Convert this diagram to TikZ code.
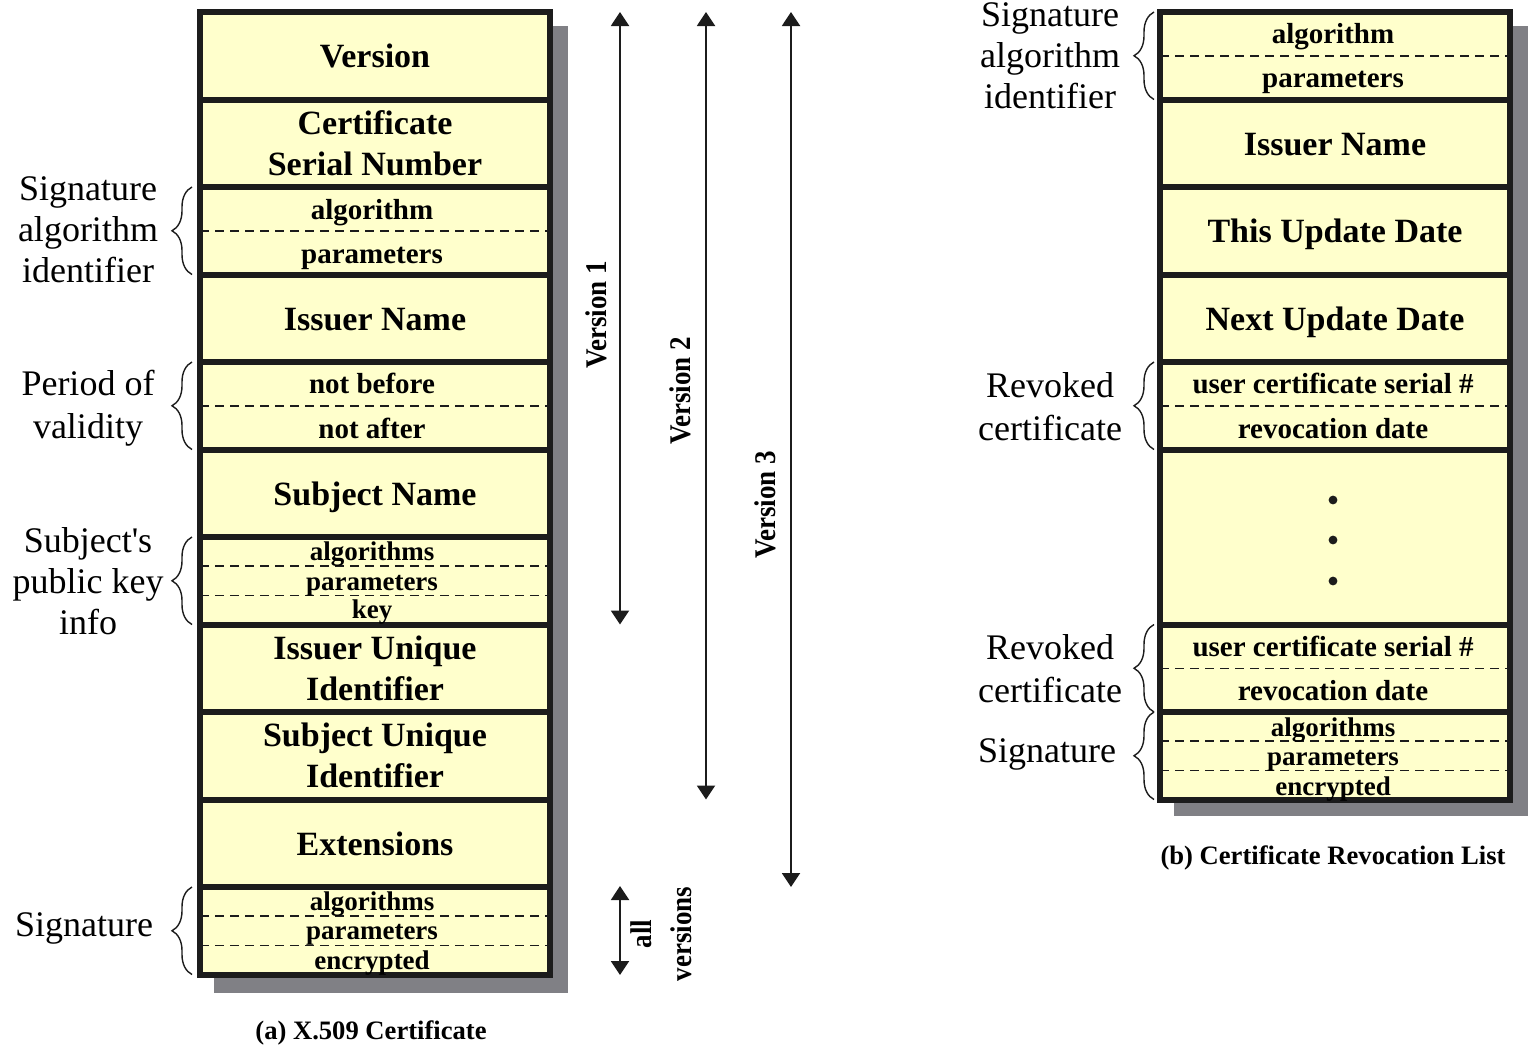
\documentclass[tikz,border=0pt]{standalone}
\usepackage{fontspec}
\setmainfont{Liberation Serif}
\newfontfamily\vfont[FakeStretch=0.9]{Liberation Serif}
\usetikzlibrary{arrows.meta,decorations.pathreplacing,calc}
\definecolor{cellyellow}{RGB}{255,255,204}
\definecolor{shadowgray}{RGB}{128,128,133}
\definecolor{ink}{RGB}{28,28,28}
\begin{document}
\begin{tikzpicture}[x=0.5pt,y=-0.5pt,
  field/.style={draw=ink, fill=cellyellow, line width=3pt, minimum width=175pt,
    minimum height=43.75pt, inner sep=0pt, outer sep=0pt, align=center,
    font=\fontsize{17}{20.5}\selectfont\bfseries},
  fixbig/.style={text height=12pt, text depth=0pt},
  tallfield/.style={field, minimum height=87.5pt},
  sub/.style={inner sep=0pt, font=\fontsize{14.5}{17}\selectfont\bfseries, text height=10pt, text depth=0pt},
  subsm/.style={inner sep=0pt, font=\fontsize{13.5}{16}\selectfont\bfseries, text height=9.5pt, text depth=0pt},
  lbl/.style={inner sep=0pt, align=center, font=\fontsize{18}{20.5}\selectfont},
  fixlbl/.style={text height=12.6pt, text depth=0pt},
  vlbl/.style={inner sep=0pt, align=center, rotate=90, font={\vfont\bfseries\fontsize{15}{19}\selectfont}},
  captext/.style={inner sep=0pt, font=\fontsize{13.3}{16}\selectfont\bfseries, text height=9.3pt, text depth=0pt},
  dashline/.style={draw=ink, line width=0.75pt, dash pattern=on 4.5pt off 3pt},
  brace/.style={draw=ink, line width=0.7pt, decorate, decoration={brace, amplitude=10pt}},
  varrow/.style={draw=ink, line width=1pt, {Triangle[width=9pt,length=7pt]}-{Triangle[width=9pt,length=7pt]}}
]
\useasboundingbox (0,0) rectangle (1529,1049);

% shadows
\fill[shadowgray] (214,26) rectangle (568,992.5);
\fill[shadowgray] (1174,26) rectangle (1528,815.5);

% ---------------- (a) X.509 certificate ----------------
\node[field,fixbig] (version) at (375,55.75) {Version};
\node[field] (serial) at (375,143.25) {Certificate\\Serial Number};
\node[field] (sigalg) at (375,230.75) {};
\node[field,fixbig] (issuer) at (375,318.25) {Issuer Name};
\node[field] (validity) at (375,405.75) {};
\node[field,fixbig] (subject) at (375,493.25) {Subject Name};
\node[field] (pubkey) at (375,580.75) {};
\node[field] (issuerid) at (375,668.25) {Issuer Unique\\Identifier};
\node[field] (subjectid) at (375,755.75) {Subject Unique\\Identifier};
\node[field,fixbig] (ext) at (375,843.25) {Extensions};
\node[field] (sig) at (375,930.75) {};

\draw[dashline] (sigalg.west) -- (sigalg.east);
\draw[dashline] (validity.west) -- (validity.east);
\draw[dashline] ($(pubkey.north west)!1/3!(pubkey.south west)$) -- ($(pubkey.north east)!1/3!(pubkey.south east)$);
\draw[dashline] ($(pubkey.north west)!2/3!(pubkey.south west)$) -- ($(pubkey.north east)!2/3!(pubkey.south east)$);
\draw[dashline] ($(sig.north west)!1/3!(sig.south west)$) -- ($(sig.north east)!1/3!(sig.south east)$);
\draw[dashline] ($(sig.north west)!2/3!(sig.south west)$) -- ($(sig.north east)!2/3!(sig.south east)$);

\node[sub] (sigalg-a) at (372,209) {algorithm};
\node[sub] (sigalg-p) at (372,253) {parameters};
\node[sub] (valid-b) at (372,383) {not before};
\node[sub] (valid-a) at (372,428) {not after};
\node[subsm] (pubkey-a) at (372,551) {algorithms};
\node[subsm] (pubkey-p) at (372,581) {parameters};
\node[subsm] (pubkey-k) at (372,609) {key};
\node[subsm] (sig-a) at (372,901) {algorithms};
\node[subsm] (sig-p) at (372,930) {parameters};
\node[subsm] (sig-e) at (372,960) {encrypted};

% labels left
\node[lbl] (l-sigalg) at (88,230) {Signature\\algorithm\\identifier};
\node[lbl, font=\fontsize{18}{21.5}\selectfont] (l-valid) at (88,408) {Period of\\validity};
\node[lbl] (l-pubkey) at (88,581) {Subject\textquotesingle s\\public key\\info};
\node[lbl,fixlbl] (l-sig) at (84,924) {Signature};

\draw[brace] ([xshift=-4pt]sigalg.south west) -- ([xshift=-4pt]sigalg.north west);
\draw[brace] ([xshift=-4pt]validity.south west) -- ([xshift=-4pt]validity.north west);
\draw[brace] ([xshift=-4pt]pubkey.south west) -- ([xshift=-4pt]pubkey.north west);
\draw[brace] ([xshift=-4pt]sig.south west) -- ([xshift=-4pt]sig.north west);

% version arrows
\coordinate (v1t) at (620,12);
\coordinate (v1b) at (620,624.5);
\coordinate (v2t) at (706,12);
\coordinate (v2b) at (706,799.5);
\coordinate (v3t) at (791,12);
\coordinate (v3b) at (791,887);
\coordinate (avt) at (620,886);
\coordinate (avb) at (620,975);
\draw[varrow] (v1b) -- (v1t);
\draw[varrow] (v2b) -- (v2t);
\draw[varrow] (v3b) -- (v3t);
\draw[varrow] (avb) -- (avt);

\node[vlbl] (vl1) at (596,315) {Version 1};
\node[vlbl] (vl2) at (680,391) {Version 2};
\node[vlbl] (vl3) at (765,505) {Version 3};
\node[vlbl, font={\vfont\bfseries\fontsize{15}{20}\selectfont}] (vlall) at (661,934) {all\\versions};

\node[captext] (capa) at (371,1030) {(a) X.509 Certificate};

% ---------------- (b) CRL ----------------
\node[field] (rsigalg) at (1335,55.75) {};
\node[field,fixbig] (rissuer) at (1335,143.25) {Issuer Name};
\node[field,fixbig] (rthis) at (1335,230.75) {This Update Date};
\node[field,fixbig] (rnext) at (1335,318.25) {Next Update Date};
\node[field] (rrev1) at (1335,405.75) {};
\node[tallfield] (rdots) at (1335,537) {};
\node[field] (rrev2) at (1335,668.25) {};
\node[field] (rsig) at (1335,755.75) {};

\draw[dashline] (rsigalg.west) -- (rsigalg.east);
\draw[dashline] (rrev1.west) -- (rrev1.east);
\draw[dashline] (rrev2.west) -- (rrev2.east);
\draw[dashline] ($(rsig.north west)!1/3!(rsig.south west)$) -- ($(rsig.north east)!1/3!(rsig.south east)$);
\draw[dashline] ($(rsig.north west)!2/3!(rsig.south west)$) -- ($(rsig.north east)!2/3!(rsig.south east)$);

\node[sub] (rsigalg-a) at (1333,33) {algorithm};
\node[sub] (rsigalg-p) at (1333,77) {parameters};
\node[sub] (rrev1-s) at (1333,383) {user certificate serial \#};
\node[sub] (rrev1-d) at (1333,428) {revocation date};
\node[sub] (rrev2-s) at (1333,646) {user certificate serial \#};
\node[sub] (rrev2-d) at (1333,690) {revocation date};
\node[subsm] (rsig-a) at (1333,727) {algorithms};
\node[subsm] (rsig-p) at (1333,756) {parameters};
\node[subsm] (rsig-e) at (1333,786) {encrypted};

\fill[ink] (1333,500) circle[radius=2.2pt];
\fill[ink] (1333,540) circle[radius=2.2pt];
\fill[ink] (1333,581) circle[radius=2.2pt];

\node[lbl] (r-sigalg) at (1050,56) {Signature\\algorithm\\identifier};
\node[lbl, font=\fontsize{18}{21.5}\selectfont] (r-rev1) at (1050,407) {Revoked\\certificate};
\node[lbl, font=\fontsize{18}{21.5}\selectfont] (r-rev2) at (1050,669) {Revoked\\certificate};
\node[lbl,fixlbl] (r-sig) at (1047,750) {Signature};

\draw[brace] ([xshift=-3pt]rsigalg.south west) -- ([xshift=-3pt]rsigalg.north west);
\draw[brace] ([xshift=-3pt]rrev1.south west) -- ([xshift=-3pt]rrev1.north west);
\draw[brace] ([xshift=-3pt]rrev2.south west) -- ([xshift=-3pt]rrev2.north west);
\draw[brace] ([xshift=-3pt]rsig.south west) -- ([xshift=-3pt]rsig.north west);

\node[captext] (capb) at (1333,855) {(b) Certificate Revocation List};
\end{tikzpicture}
\end{document}
